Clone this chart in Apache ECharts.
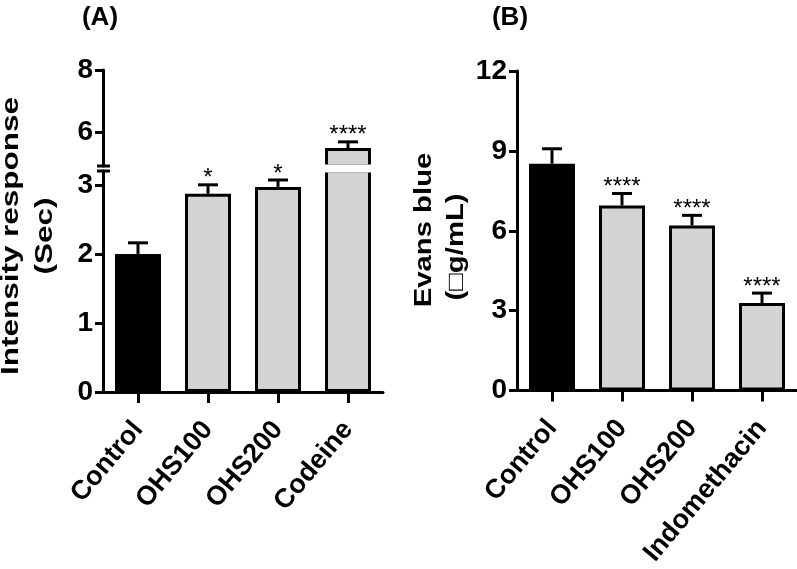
<!DOCTYPE html>
<html>
<head>
<meta charset="utf-8">
<script src="https://cdn.jsdelivr.net/npm/echarts@6/dist/echarts.min.js"></script>
<style>
html,body{margin:0;padding:0;background:#fff;}
#chart{width:797px;height:569px;}
</style>
</head>
<body>
<div id="chart"></div>
<script>
// ---- data ----
const categoriesA = ['Control', 'OHS100', 'OHS200', 'Codeine'];
const meansA = [2.0, 2.87, 2.97, 5.48];
const semA = [0.16, 0.13, 0.10, 0.20];
const starsA = ['', '*', '*', '****'];
const ticksA_low = [0, 1, 2, 3];
const ticksA_high = [6, 8];

const categoriesB = ['Control', 'OHS100', 'OHS200', 'Indomethacin'];
const meansB = [8.52, 6.95, 6.20, 3.29];
const semB = [0.56, 0.45, 0.38, 0.37];
const starsB = ['', '****', '****', '****'];
const ticksB = [0, 3, 6, 9, 12];

const lowA = {min: 0, max: 3.2};
const highA = {min: 4.9, max: 8};

// ---- styling ----
const FONT = '"Liberation Sans", Arial, sans-serif';
const barColors = ['#000000', '#d3d3d3', '#d3d3d3', '#d3d3d3'];
const BAR_W = 46;

function barData(means, keep) {
  return means.map((v, i) => keep(v) ? {value: v, itemStyle: {color: barColors[i]}} : '-');
}
function errData(means, sems) {
  return means.map((m, i) => [i, m, m + sems[i]]);
}
function errRender(stars) {
  return function (params, api) {
    const i = api.value(0);
    const p0 = api.coord([i, api.value(1)]);
    const p1 = api.coord([i, api.value(2)]);
    const cs = params.coordSys;
    if (p0[1] < cs.y - 1 || p0[1] > cs.y + cs.height + 1) return;
    const children = [
      {type: 'line', shape: {x1: p0[0], y1: p0[1], x2: p1[0], y2: p1[1]}, style: {stroke: '#000', lineWidth: 3}},
      {type: 'line', shape: {x1: p1[0] - 10, y1: p1[1], x2: p1[0] + 10, y2: p1[1]}, style: {stroke: '#000', lineWidth: 3}}
    ];
    if (stars[i]) {
      children.push({type: 'text', style: {text: stars[i], x: p1[0], y: p1[1] - 6, align: 'center', verticalAlign: 'middle', font: 'normal 24px ' + FONT, fill: '#000'}});
    }
    return {type: 'group', children: children};
  };
}

const axisLineStyle = {show: true, lineStyle: {color: '#000', width: 3}};
const yLabel = {color: '#000', fontSize: 28, fontWeight: 'bold', fontFamily: FONT, margin: 10};
const xLabel = {color: '#000', fontSize: 27, fontWeight: 'bold', fontFamily: FONT, rotate: 50, interval: 0, margin: 33};

const chart = echarts.init(document.getElementById('chart'), null, {renderer: 'canvas'});

const option = {
  animation: false,
  backgroundColor: '#fff',
  grid: [
    {left: 103, top: 171, width: 280, height: 221},
    {left: 103, top: 70, width: 280, height: 96},
    {left: 517, top: 71, width: 280, height: 321}
  ],
  xAxis: [
    {type: 'category', gridIndex: 0, data: categoriesA, axisLine: axisLineStyle,
      axisTick: {show: true, alignWithLabel: true, length: 11, lineStyle: {color: '#000', width: 3}}, axisLabel: xLabel},
    {type: 'category', gridIndex: 1, data: categoriesA, show: false},
    {type: 'category', gridIndex: 2, data: categoriesB, axisLine: axisLineStyle,
      axisTick: {show: true, alignWithLabel: true, length: 11, lineStyle: {color: '#000', width: 3}}, axisLabel: xLabel}
  ],
  yAxis: [
    {type: 'value', gridIndex: 0, min: lowA.min, max: lowA.max, axisLine: axisLineStyle, splitLine: {show: false},
      axisTick: {show: true, length: 8, lineStyle: {color: '#000', width: 3}, customValues: ticksA_low},
      axisLabel: Object.assign({customValues: ticksA_low}, yLabel)},
    {type: 'value', gridIndex: 1, min: highA.min, max: highA.max, axisLine: axisLineStyle, splitLine: {show: false},
      axisTick: {show: true, length: 8, lineStyle: {color: '#000', width: 3}, customValues: ticksA_high},
      axisLabel: Object.assign({customValues: ticksA_high}, yLabel)},
    {type: 'value', gridIndex: 2, min: 0, max: 12, interval: 3, axisLine: axisLineStyle, splitLine: {show: false},
      axisTick: {show: true, length: 8, lineStyle: {color: '#000', width: 3}},
      axisLabel: yLabel}
  ],
  series: [
    {type: 'bar', xAxisIndex: 0, yAxisIndex: 0, barWidth: BAR_W, clip: true,
      data: barData(meansA, v => true), itemStyle: {borderColor: '#000', borderWidth: 3}, z: 2},
    {type: 'bar', xAxisIndex: 1, yAxisIndex: 1, barWidth: BAR_W, clip: true,
      data: barData(meansA, v => v > highA.min), itemStyle: {borderColor: '#000', borderWidth: 3}, z: 2},
    {type: 'bar', xAxisIndex: 2, yAxisIndex: 2, barWidth: BAR_W,
      data: barData(meansB, v => true), itemStyle: {borderColor: '#000', borderWidth: 3}, z: 2},
    {type: 'custom', xAxisIndex: 0, yAxisIndex: 0, clip: false, renderItem: errRender(starsA), data: errData(meansA, semA), z: 3},
    {type: 'custom', xAxisIndex: 1, yAxisIndex: 1, clip: false, renderItem: errRender(starsA), data: errData(meansA, semA), z: 3},
    {type: 'custom', xAxisIndex: 2, yAxisIndex: 2, clip: false, renderItem: errRender(starsB), data: errData(meansB, semB), z: 3}
  ],
  graphic: [
    {type: 'text', x: 100, y: 18, style: {text: '(A)', font: 'bold 26px ' + FONT, fill: '#000', align: 'center', verticalAlign: 'middle'}},
    {type: 'text', x: 510, y: 18, style: {text: '(B)', font: 'bold 26px ' + FONT, fill: '#000', align: 'center', verticalAlign: 'middle'}},
    {type: 'text', x: 11, y: 236, rotation: Math.PI / 2, scaleX: 1.31,
      style: {text: 'Intensity response', font: 'bold 24px ' + FONT, fill: '#000', align: 'center', verticalAlign: 'middle'}},
    {type: 'text', x: 45, y: 236, rotation: Math.PI / 2, scaleX: 1.31,
      style: {text: '(Sec)', font: 'bold 24px ' + FONT, fill: '#000', align: 'center', verticalAlign: 'middle'}},
    {type: 'text', x: 424, y: 230, rotation: Math.PI / 2, scaleX: 1.22,
      style: {text: 'Evans blue', font: 'bold 24px ' + FONT, fill: '#000', align: 'center', verticalAlign: 'middle'}},
    {type: 'text', x: 456, y: 247, rotation: Math.PI / 2, scaleX: 1.22,
      style: {text: '(\u25A1g/mL)', font: 'bold 24px ' + FONT, fill: '#000', align: 'center', verticalAlign: 'middle'}}
  ]
};
chart.setOption(option);

// axis break decorations, computed from the axes
const upBottom = chart.convertToPixel({gridIndex: 1}, [3, highA.min]);
const lowTop = chart.convertToPixel({gridIndex: 0}, [3, lowA.max]);
const gridLeft = 103;
chart.setOption({
  graphic: option.graphic.concat([
    {type: 'rect', z: 100, shape: {x: upBottom[0] - BAR_W / 2 - 3, y: upBottom[1] - 1.5, width: BAR_W + 6, height: lowTop[1] - upBottom[1] + 3}, style: {fill: '#fff'}},
    {type: 'line', z: 100, shape: {x1: gridLeft - 6, y1: upBottom[1], x2: gridLeft + 7, y2: upBottom[1]}, style: {stroke: '#000', lineWidth: 3}},
    {type: 'line', z: 100, shape: {x1: gridLeft - 6, y1: lowTop[1], x2: gridLeft + 7, y2: lowTop[1]}, style: {stroke: '#000', lineWidth: 3}}
  ])
});
</script>
</body>
</html>
